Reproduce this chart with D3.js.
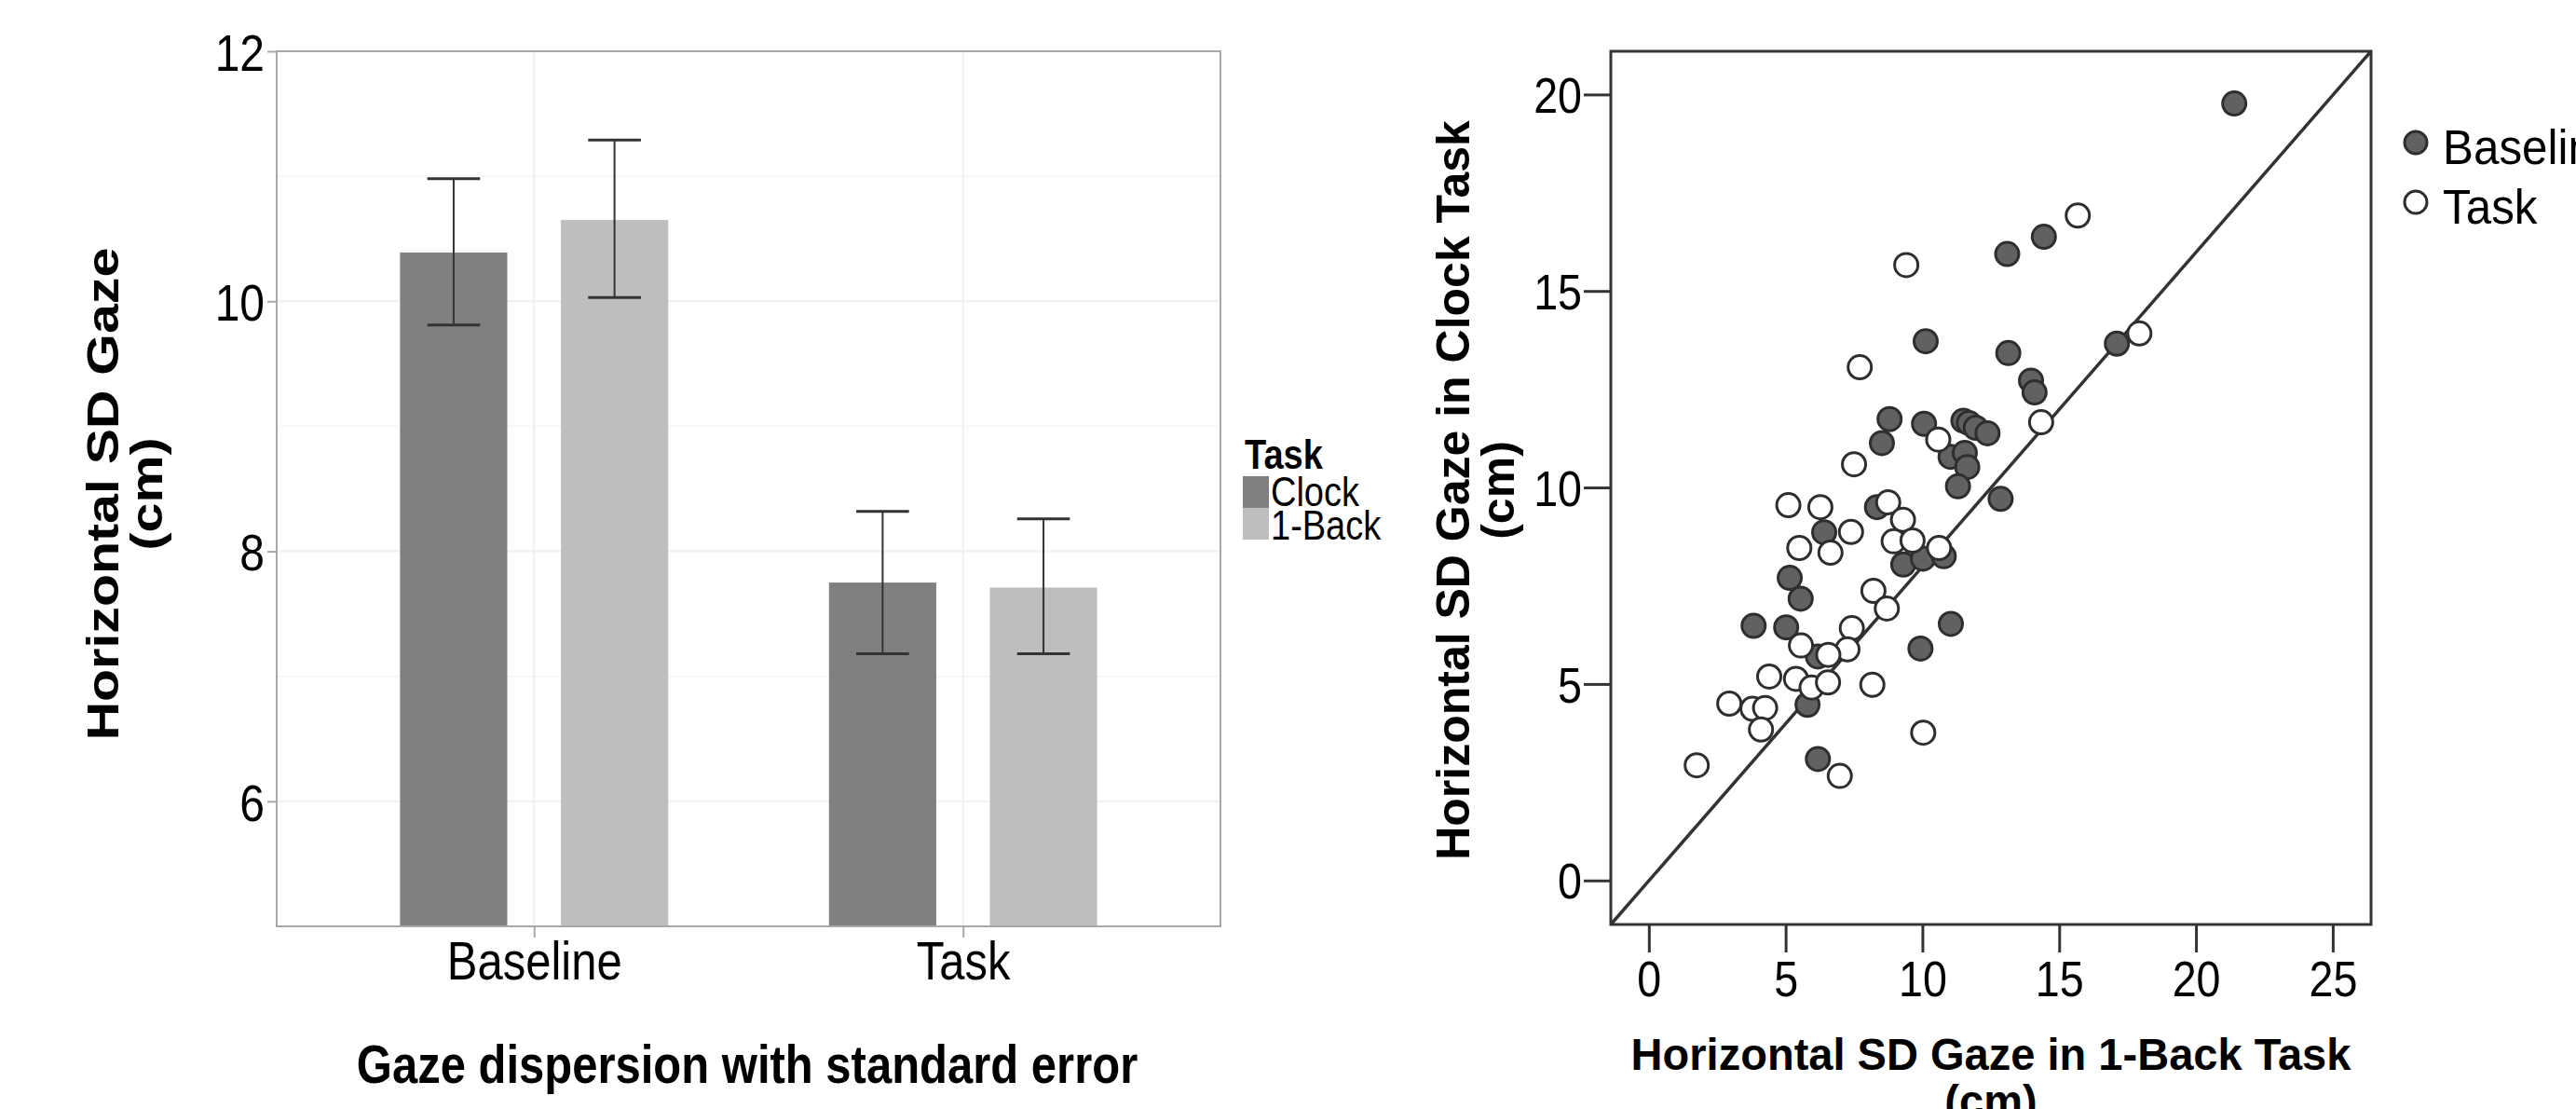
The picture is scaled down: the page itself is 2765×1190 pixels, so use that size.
<!DOCTYPE html>
<html lang="en">
<head>
  <meta charset="UTF-8">
  <title>Gaze dispersion</title>
  <script src="https://cdn.jsdelivr.net/npm/d3@7"></script>
  <style>
    body { margin: 0; background: #fff; }
    text { font-family: "Liberation Sans", Arial, sans-serif; fill: #000; }
  </style>
</head>
<body>
<script>
  // ---- bar chart data ----
  const barCategories = ["Baseline", "Task"];
  const barSeries = ["Clock", "1-Back"];
  const clockMeans = [10.39, 7.75];
  const clockLower = [9.81, 7.18];
  const clockUpper = [10.98, 8.32];
  const backMeans = [10.65, 7.71];
  const backLower = [10.03, 7.18];
  const backUpper = [11.29, 8.26];
  const barYTicks = [6, 8, 10, 12];
  const barYMinor = [7, 9, 11];

  // ---- scatter data: [1-Back, Clock] ----
  const baselinePoints = [
    [21.40, 19.77], [14.44, 16.38], [13.10, 15.94], [10.12, 13.72], [13.14, 13.42],
    [17.11, 13.66], [13.97, 12.72], [14.10, 12.42], [8.80, 11.74], [10.06, 11.62],
    [8.52, 11.13], [11.50, 11.70], [11.70, 11.64], [11.95, 11.52], [12.38, 11.38],
    [11.03, 10.78], [11.55, 10.88], [11.64, 10.52], [11.30, 10.03], [12.86, 9.71],
    [8.34, 9.50], [6.41, 8.86], [9.30, 8.04], [10.02, 8.19], [10.78, 8.25],
    [5.15, 7.70], [5.55, 7.17], [3.83, 6.48], [5.02, 6.44], [11.04, 6.53],
    [9.93, 5.90], [6.18, 5.70], [5.80, 4.47], [6.18, 3.09]
  ];
  const taskPoints = [
    [15.68, 16.92], [9.41, 15.66], [17.93, 13.92], [7.71, 13.06], [14.34, 11.66],
    [10.58, 11.22], [7.50, 10.59], [5.10, 9.55], [6.27, 9.50], [8.75, 9.62],
    [9.29, 9.18], [5.50, 8.46], [6.64, 8.34], [7.39, 8.87], [8.95, 8.63],
    [9.64, 8.65], [10.61, 8.46], [8.21, 7.37], [8.70, 6.92], [7.42, 6.42],
    [7.26, 5.88], [5.56, 5.98], [6.56, 5.74], [4.40, 5.19], [5.38, 5.13],
    [5.95, 4.91], [6.55, 5.04], [8.17, 4.98], [2.94, 4.50], [3.79, 4.37],
    [4.25, 4.39], [4.10, 3.84], [10.03, 3.76], [1.75, 2.93], [6.98, 2.66]
  ];
  const scatterXTicks = [0, 5, 10, 15, 20, 25];
  const scatterYTicks = [0, 5, 10, 15, 20];

  const W = 2765, H = 1190;
  const svg = d3.select("body").append("svg")
    .attr("width", W).attr("height", H)
    .style("display", "block");
  svg.append("rect").attr("width", W).attr("height", H).attr("fill", "#fff");

  // ================= left: bar chart =================
  const stretch = 1.17; // left figure is vertically stretched
  const left = { x0: 297, x1: 1310, y0: 55, y1: 994 };

  const x = d3.scalePoint().domain(barCategories).range([left.x0, left.x1]).padding(0.6);
  const y = d3.scaleLinear().domain([5, 12]).range([left.y1, left.y0]);
  const color = d3.scaleOrdinal().domain(barSeries).range(["#808080", "#bebebe"]);

  const step = x.step();
  const barW = 0.25 * step;
  const offset = { "Clock": -0.1875 * step, "1-Back": 0.1875 * step };

  const bars = [];
  barCategories.forEach((c, i) => {
    bars.push({ cat: c, series: "Clock", mean: clockMeans[i], lo: clockLower[i], hi: clockUpper[i] });
    bars.push({ cat: c, series: "1-Back", mean: backMeans[i], lo: backLower[i], hi: backUpper[i] });
  });

  const gL = svg.append("g");

  // grid
  gL.selectAll(".minor").data(barYMinor).enter().append("line")
    .attr("x1", left.x0).attr("x2", left.x1)
    .attr("y1", d => y(d)).attr("y2", d => y(d))
    .attr("stroke", "#f6f6f6").attr("stroke-width", 2);
  gL.selectAll(".major").data(barYTicks).enter().append("line")
    .attr("x1", left.x0).attr("x2", left.x1)
    .attr("y1", d => y(d)).attr("y2", d => y(d))
    .attr("stroke", "#f0f0f0").attr("stroke-width", 2);
  gL.selectAll(".vgrid").data(barCategories).enter().append("line")
    .attr("x1", d => x(d)).attr("x2", d => x(d))
    .attr("y1", left.y0).attr("y2", left.y1)
    .attr("stroke", "#f0f0f0").attr("stroke-width", 2);

  // bars
  gL.selectAll(".bar").data(bars).enter().append("rect")
    .attr("x", d => x(d.cat) + offset[d.series] - barW / 2)
    .attr("y", d => y(d.mean))
    .attr("width", barW)
    .attr("height", d => y(5) - y(d.mean))
    .attr("fill", d => color(d.series));

  // error bars
  const capW = 0.123 * step;
  const eb = gL.selectAll(".eb").data(bars).enter().append("g")
    .attr("stroke", "#333").attr("stroke-width", 2);
  eb.append("line")
    .attr("x1", d => x(d.cat) + offset[d.series]).attr("x2", d => x(d.cat) + offset[d.series])
    .attr("y1", d => y(d.lo)).attr("y2", d => y(d.hi));
  eb.append("line")
    .attr("x1", d => x(d.cat) + offset[d.series] - capW / 2).attr("x2", d => x(d.cat) + offset[d.series] + capW / 2)
    .attr("y1", d => y(d.hi)).attr("y2", d => y(d.hi)).attr("stroke-width", 3);
  eb.append("line")
    .attr("x1", d => x(d.cat) + offset[d.series] - capW / 2).attr("x2", d => x(d.cat) + offset[d.series] + capW / 2)
    .attr("y1", d => y(d.lo)).attr("y2", d => y(d.lo)).attr("stroke-width", 3);

  // panel border
  gL.append("rect")
    .attr("x", left.x0).attr("y", left.y0)
    .attr("width", left.x1 - left.x0).attr("height", left.y1 - left.y0)
    .attr("fill", "none").attr("stroke", "#a8a8a8").attr("stroke-width", 2);

  // axes
  const yAxisL = gL.append("g").attr("transform", `translate(${left.x0},0)`)
    .call(d3.axisLeft(y).tickValues(barYTicks).tickFormat(d3.format("d")).tickSize(10).tickPadding(0));
  yAxisL.select(".domain").remove();
  yAxisL.selectAll("line").attr("stroke", "#a8a8a8").attr("stroke-width", 2);
  yAxisL.selectAll("text")
    .attr("x", -13).attr("dy", "0.36em")
    .attr("font-size", 48)
    .attr("transform", `scale(1,${stretch})`);

  const xAxisL = gL.append("g").attr("transform", `translate(0,${left.y1})`)
    .call(d3.axisBottom(x).tickSize(12).tickPadding(0));
  xAxisL.select(".domain").remove();
  xAxisL.selectAll("line").attr("stroke", "#a8a8a8").attr("stroke-width", 2);
  xAxisL.selectAll("text")
    .attr("y", 57 / stretch).attr("dy", null)
    .attr("font-size", 49)
    .attr("transform", `scale(1,${stretch})`);

  // titles
  gL.append("text")
    .attr("transform", `translate(802,1162) scale(1,${stretch})`)
    .attr("text-anchor", "middle").attr("font-size", 49).attr("font-weight", "bold")
    .text("Gaze dispersion with standard error");
  const yTitleL = gL.append("text")
    .attr("text-anchor", "middle").attr("font-size", 49).attr("font-weight", "bold");
  yTitleL.append("tspan").attr("x", 0).attr("y", 0).text("Horizontal SD Gaze");
  yTitleL.append("tspan").attr("x", 0).attr("y", 47).text("(cm)");
  yTitleL.attr("transform", `translate(127,530) rotate(-90) scale(${stretch},1)`);

  // legend
  const legL = gL.append("g");
  legL.append("text").attr("transform", `translate(1336,503) scale(1,${stretch})`)
    .attr("font-size", 38).attr("font-weight", "bold").text("Task");
  legL.selectAll(".key").data(barSeries).enter().append("rect")
    .attr("x", 1334).attr("y", (d, i) => 511 + i * 34)
    .attr("width", 28).attr("height", 34)
    .attr("fill", d => color(d));
  legL.selectAll(".lab").data(barSeries).enter().append("text")
    .attr("transform", (d, i) => `translate(1364,${543 + i * 36}) scale(1,${stretch})`)
    .attr("font-size", 38).text(d => d);

  // ================= right: scatter =================
  const right = { x0: 1729, x1: 2545, y0: 55, y1: 992 };
  const sx = d3.scaleLinear().domain([-1.39, 26.40]).range([right.x0, right.x1]);
  const sy = d3.scaleLinear().domain([-1.12, 21.10]).range([right.y1, right.y0]);

  const gR = svg.append("g");
  const narrow = 0.88;

  // diagonal reference line corner to corner
  gR.append("line")
    .attr("x1", sx(sx.domain()[0])).attr("y1", sy(sy.domain()[0]))
    .attr("x2", sx(sx.domain()[1])).attr("y2", sy(sy.domain()[1]))
    .attr("stroke", "#333").attr("stroke-width", 3.5);

  gR.selectAll(".base").data(baselinePoints).enter().append("circle")
    .attr("cx", d => sx(d[0])).attr("cy", d => sy(d[1])).attr("r", 12.5)
    .attr("fill", "#616161").attr("stroke", "#2e2e2e").attr("stroke-width", 3);
  gR.selectAll(".task").data(taskPoints).enter().append("circle")
    .attr("cx", d => sx(d[0])).attr("cy", d => sy(d[1])).attr("r", 12.5)
    .attr("fill", "#fff").attr("stroke", "#2e2e2e").attr("stroke-width", 3);

  gR.append("rect")
    .attr("x", right.x0).attr("y", right.y0)
    .attr("width", right.x1 - right.x0).attr("height", right.y1 - right.y0)
    .attr("fill", "none").attr("stroke", "#333").attr("stroke-width", 3);

  const yAxisR = gR.append("g").attr("transform", `translate(${right.x0},0)`)
    .call(d3.axisLeft(sy).tickValues(scatterYTicks).tickSize(29).tickPadding(0));
  yAxisR.select(".domain").remove();
  yAxisR.selectAll("line").attr("stroke", "#333").attr("stroke-width", 3);
  yAxisR.selectAll("text")
    .attr("x", -31 / narrow).attr("dy", "0.36em")
    .attr("font-size", 53)
    .attr("transform", `scale(${narrow},1)`);

  const xAxisR = gR.append("g").attr("transform", `translate(0,${right.y1})`)
    .call(d3.axisBottom(sx).tickValues(scatterXTicks).tickSize(30).tickPadding(0));
  xAxisR.select(".domain").remove();
  xAxisR.selectAll("line").attr("stroke", "#333").attr("stroke-width", 3);
  xAxisR.selectAll("text")
    .attr("y", 77).attr("dy", null)
    .attr("font-size", 53)
    .attr("transform", `scale(${narrow},1)`)
    .attr("x", 0);

  const xTitleR = gR.append("text")
    .attr("text-anchor", "middle").attr("font-size", 48).attr("font-weight", "bold")
    .attr("transform", `translate(${(right.x0 + right.x1) / 2},1148) scale(0.98,1)`);
  xTitleR.append("tspan").attr("x", 0).attr("y", 0).text("Horizontal SD Gaze in 1-Back Task");
  xTitleR.append("tspan").attr("x", 0).attr("y", 50).text("(cm)");

  const yTitleR = gR.append("text")
    .attr("text-anchor", "middle").attr("font-size", 50).attr("font-weight", "bold")
    .attr("transform", `translate(1577,526) rotate(-90)`);
  yTitleR.append("tspan").attr("x", 0).attr("y", 0).text("Horizontal SD Gaze in Clock Task");
  yTitleR.append("tspan").attr("x", 0).attr("y", 48).text("(cm)");

  // legend
  const legR = gR.append("g");
  const legendItems = [
    { label: "Baseline", fill: "#616161" },
    { label: "Task", fill: "#fff" }
  ];
  legR.selectAll("circle").data(legendItems).enter().append("circle")
    .attr("cx", 2593).attr("cy", (d, i) => 153 + i * 64).attr("r", 12)
    .attr("fill", d => d.fill).attr("stroke", "#2e2e2e").attr("stroke-width", 3);
  legR.selectAll("text").data(legendItems).enter().append("text")
    .attr("transform", (d, i) => `translate(2622,${176 + i * 64}) scale(0.95,1)`)
    .attr("font-size", 52).text(d => d.label);
</script>
</body>
</html>
